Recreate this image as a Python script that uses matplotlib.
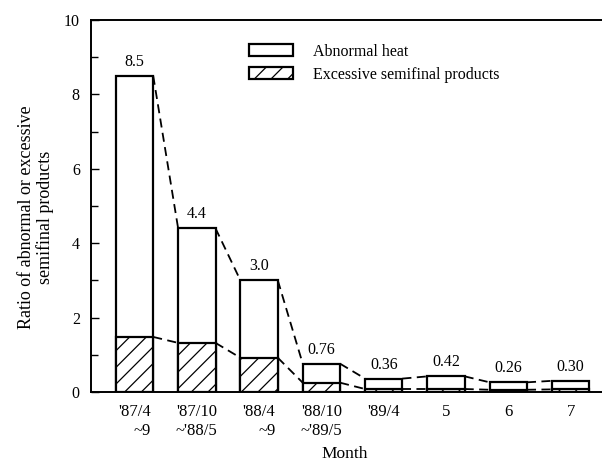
import matplotlib
matplotlib.use('Agg')
import matplotlib.pyplot as plt
from matplotlib.patches import Patch

periods = ["'87/4\n~9", "'87/10\n~'88/5", "'88/4\n~9", "'88/10\n~'89/5",
           "'89/4", "5", "6", "7"]
abnormal_heat = [8.5, 4.4, 3.0, 0.76, 0.36, 0.42, 0.26, 0.30]
excessive_semifinal = [1.48, 1.32, 0.92, 0.25, 0.08, 0.08, 0.06, 0.07]
value_labels = ['8.5', '4.4', '3.0', '0.76', '0.36', '0.42', '0.26', '0.30']

plt.rcParams['font.family'] = ['Liberation Serif', 'DejaVu Serif']
plt.rcParams['hatch.linewidth'] = 0.9

fig = plt.figure(figsize=(6.02, 4.65), dpi=100)
ax = fig.add_axes([0.151, 0.157, 0.86, 0.80])

x = list(range(len(periods)))
w = 0.6

# white total bars, hatched part drawn over the bottom
ax.bar(x, abnormal_heat, width=w, color='white', edgecolor='black',
       linewidth=1.6, zorder=3)
ax.bar(x, excessive_semifinal, width=w, color='white', edgecolor='black',
       linewidth=1.6, hatch='//', zorder=4)

# dashed connectors from right corner of one bar to left corner of the next
for series in (abnormal_heat, excessive_semifinal):
    for i in range(len(x) - 1):
        ax.plot([x[i] + w / 2, x[i + 1] - w / 2], [series[i], series[i + 1]],
                color='black', linestyle=(0, (5, 3)), linewidth=1.3, zorder=2)

for xi, v, lab in zip(x, abnormal_heat, value_labels):
    ax.text(xi, v + 0.16, lab, ha='center', va='bottom', fontsize=11.5)

ax.set_xlim(-0.70, 7.61)
ax.set_ylim(0, 10)
ax.set_xticks(x)
ax.set_xticklabels(periods, fontsize=12, multialignment='right')
ax.tick_params(axis='x', length=0, pad=9)
ax.set_yticks([0, 2, 4, 6, 8, 10])
ax.set_yticks([1, 3, 5, 7, 9], minor=True)
ax.tick_params(axis='y', which='major', direction='in', length=6, width=1,
               labelsize=11.5, pad=8)
ax.tick_params(axis='y', which='minor', direction='in', length=5, width=1)

ax.spines['right'].set_visible(False)
for s in ('left', 'top', 'bottom'):
    ax.spines[s].set_linewidth(1.4)

ax.set_xlabel('Month', fontsize=12.5)
ax.xaxis.set_label_coords(0.490, -0.168)
ax.xaxis.label.set_va('center')
ax.set_ylabel('Ratio of abnormal or excessive\nsemifinal products',
              fontsize=13, linespacing=1.05)
ax.yaxis.set_label_coords(-0.072, 0.47)

handles = [Patch(facecolor='white', edgecolor='black', linewidth=1.6),
           Patch(facecolor='white', edgecolor='black', linewidth=1.6, hatch='//')]
ax.legend(handles, ['Abnormal heat', 'Excessive semifinal products'],
          loc='upper left', bbox_to_anchor=(0.277, 0.975), frameon=False,
          fontsize=11.5, handlelength=2.8, handleheight=0.8, labelspacing=0.45,
          handletextpad=1.25)

fig.savefig('out.png', dpi=100)
